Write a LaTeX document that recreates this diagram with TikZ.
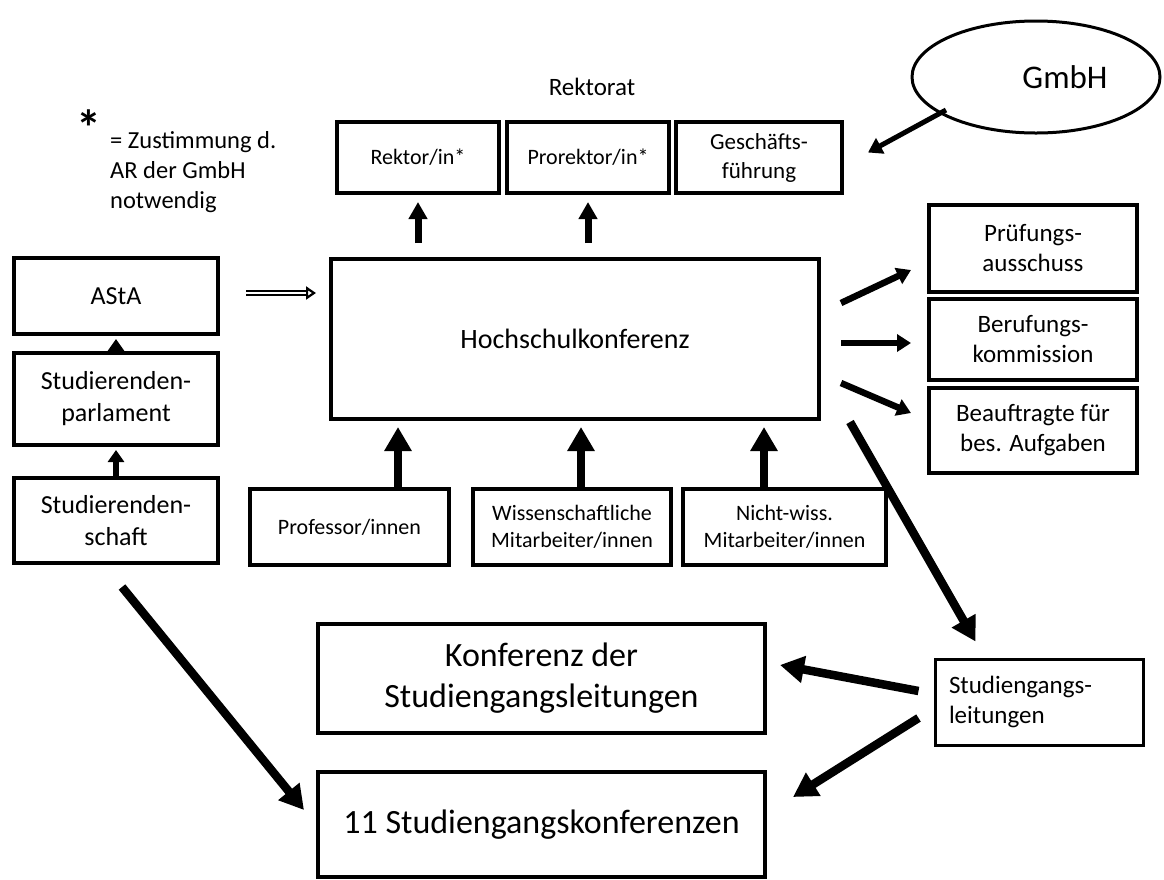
\documentclass[tikz,border=0pt]{standalone}
\usepackage{fontspec}
\setmainfont{Carlito}
\usetikzlibrary{arrows.meta,shapes.geometric,calc}
\begin{document}
\begin{tikzpicture}[x=1pt,y=-1pt,
  box/.style={draw, line width=4pt, inner sep=0pt, align=center},
  tA/.style={font=\fontsize{22}{27}\selectfont},
  tB/.style={font=\fontsize{25}{30}\selectfont},
  tL/.style={font=\fontsize{26}{32}\selectfont},
  tC/.style={font=\fontsize{28}{34}\selectfont},
  tD/.style={font=\fontsize{34}{41}\selectfont},
  arS/.style={line width=6.5pt, -{Triangle[width=17pt,length=14pt]}},
  arM/.style={line width=7pt, -{Triangle[width=18pt,length=17pt]}},
  arL/.style={line width=8.5pt, -{Triangle[width=26pt,length=24pt]}},
  dbl/.style={double, line width=2.4pt, double distance=1.1pt, -{Triangle[open,width=13pt,length=10pt,line width=2.2pt]}}
]
\useasboundingbox (0,0) rectangle (1164,879);

% Rektorat
\node[tB] (rektorat) at (592,87) {Rektorat};
\node[box,tA,minimum width=162pt,minimum height=71pt] (rektor) at (418,157.5) {Rektor/in*};
\node[box,tA,minimum width=162pt,minimum height=71pt] (prorektor) at (588,157.5) {Prorektor/in*};
\node[box,font=\fontsize{23}{29}\selectfont,minimum width=166pt,minimum height=71pt] (gesch) at (759,157.5) {Geschäfts-\\führung};
\node[draw,ellipse,line width=3pt,inner sep=0pt,minimum width=248pt,minimum height=112pt,font=\fontsize{33}{40}\selectfont] (gmbh) at (1036,77) {\hspace*{58pt}GmbH};

% footnote
\node[font=\fontsize{50}{50}\selectfont\bfseries,inner sep=0pt] (ast) at (89,128) {*};
\node[font=\fontsize{24.5}{30}\selectfont,align=left,anchor=north west,inner sep=0pt] (note) at (110,131) {= Zustimmung d.\\AR der GmbH\\notwendig};

% Hochschulkonferenz
\node[box,tC,minimum width=488pt,minimum height=160pt] (hsk) at (575,339) {Hochschulkonferenz};

% left column
\node[box,tL,minimum width=204pt,minimum height=76pt] (asta) at (116,296) {AStA};
\node[box,tL,minimum width=204pt,minimum height=92pt] (parl) at (116,399) {Studierenden-\\parlament};
\node[box,tL,minimum width=204pt,minimum height=85pt] (schaft) at (116,520.5) {Studierenden-\\schaft};

% right column
\node[box,tB,minimum width=208pt,minimum height=87pt] (pruef) at (1033,248.5) {Prüfungs-\\ausschuss};
\node[box,tB,minimum width=208pt,minimum height=81pt] (beruf) at (1033,339.5) {Berufungs-\\kommission};
\node[box,tB,minimum width=208pt,minimum height=85pt] (beauf) at (1033,430.5) {Beauftragte für\\bes. Aufgaben};

% bottom groups
\node[box,tA,minimum width=199pt,minimum height=76pt] (prof) at (349.5,527) {Professor/innen};
\node[box,tA,minimum width=198pt,minimum height=76pt] (wiss) at (572,527) {Wissenschaftliche\\Mitarbeiter/innen};
\node[box,tA,minimum width=203pt,minimum height=76pt] (nicht) at (784.5,527) {Nicht-wiss.\\Mitarbeiter/innen};

% conferences
\node[box,tD,minimum width=447pt,minimum height=109pt] (konf) at (541.5,678.5) {Konferenz der\\Studiengangsleitungen};
\node[box,tD,minimum width=447pt,minimum height=105pt] (elf) at (541.5,824.5) {11 Studiengangskonferenzen};
\node[box,tB,line width=3pt,minimum height=86pt,text width=180pt,inner xsep=14pt,align=left] (studl) at (1039,702) {Studiengangs-\\leitungen};

% connectors
\draw[arM] ([yshift=14pt]hsk.north -| rektor.south) -- ([yshift=-7pt]rektor.south);
\draw[arM] ([yshift=14pt]hsk.north -| prorektor.south) -- ([yshift=-7pt]prorektor.south);
\draw[arS,line width=5pt] ($(gmbh.center)+(-90,33)$) -- ($(gesch.east)+(24,-5)$);

\draw[dbl] ($(asta.east)+(26,-3)$) -- ($(hsk.west)+(-13,-46)$);
\draw[line width=6.5pt,-{Triangle[width=16pt,length=12pt]}] ([yshift=-1pt]parl.north) -- ([yshift=-3pt]asta.south);
\draw[line width=6.5pt,-{Triangle[width=16pt,length=12pt]}] ([yshift=-1pt]schaft.north) -- ([yshift=-3pt]parl.south);

\draw[arL] ([xshift=48.5pt]prof.north) -- ([xshift=48.5pt,yshift=-6pt]prof.north |- hsk.south);
\draw[arL] ([xshift=9pt]wiss.north) -- ([xshift=9pt,yshift=-6pt]wiss.north |- hsk.south);
\draw[arL] ([xshift=-20.5pt]nicht.north) -- ([xshift=-20.5pt,yshift=-6pt]nicht.north |- hsk.south);

\draw[arS] ($(hsk.east)+(20,-36)$) -- ($(pruef.west)+(-16,21.5)$);
\draw[arS] ($(hsk.east)+(20,4)$) -- ($(beruf.west)+(-16,3.5)$);
\draw[arS] ($(hsk.east)+(20,44)$) -- ($(beauf.west)+(-16,-17.5)$);

\draw[arL] ($(hsk.south east)+(29,1)$) -- ($(studl.north west)+(42,-16)$);
\draw[arL] ($(studl.west)+(-15,-11)$) -- ($(konf.east)+(13,-13.5)$);
\draw[arL] ($(studl.west)+(-15,16)$) -- ($(elf.east)+(26,-27.5)$);
\draw[arL] ($(schaft.south)+(6,22)$) -- ($(elf.west)+(-12,-14.5)$);
\end{tikzpicture}
\end{document}
